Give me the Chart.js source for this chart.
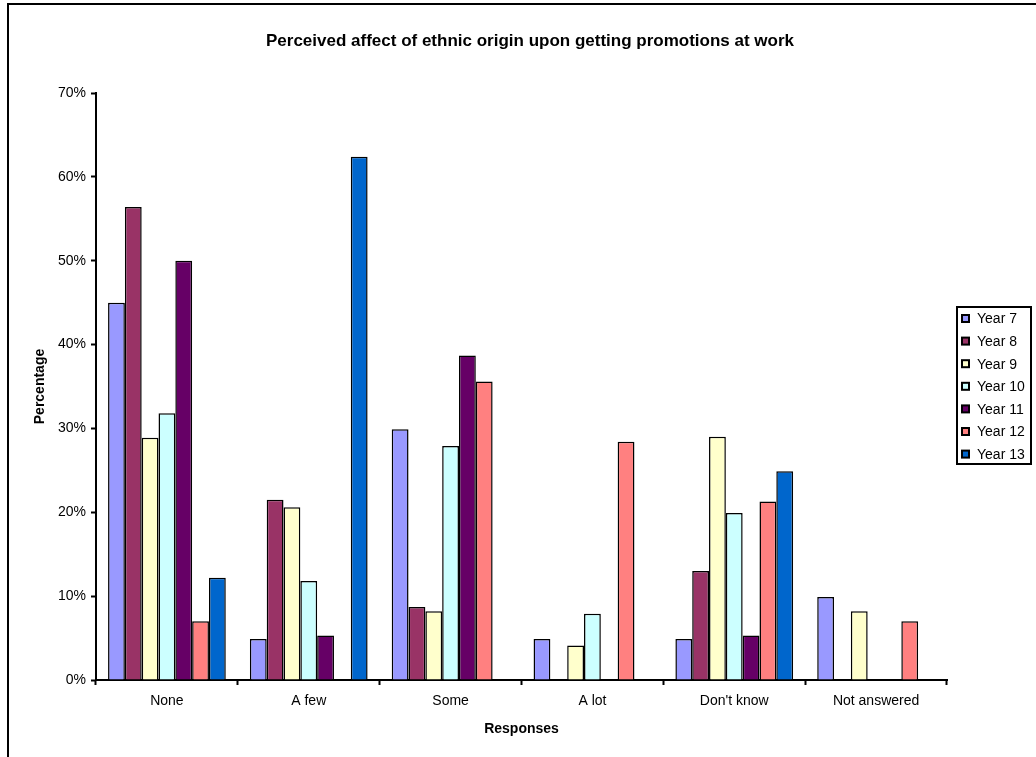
<!DOCTYPE html>
<html>
<head>
<meta charset="utf-8">
<script src="https://cdn.jsdelivr.net/npm/chart.js@4/dist/chart.umd.min.js"></script>
<style>
  html, body { margin: 0; padding: 0; background: #ffffff; }
  #wrap { width: 1036px; height: 757px; }
</style>
</head>
<body>
<div id="wrap"><canvas id="c" width="1036" height="757"></canvas></div>
<script>
// Response categories along the x axis
const categories = ['None', 'A few', 'Some', 'A lot', "Don't know", 'Not answered'];

// Percentage of each year group giving each response
const year7  = [45.0,  4.9, 29.9,  4.9,  4.9, 9.9];
const year8  = [56.4, 21.5,  8.7,  0,   13.0, 0];
const year9  = [28.9, 20.6,  8.2,  4.1, 29.0, 8.2];
const year10 = [31.8, 11.8, 27.9,  7.9, 19.9, 0];
const year11 = [50.0,  5.3, 38.7,  0,    5.3, 0];
const year12 = [ 7.0,  0,   35.6, 28.4, 21.3, 7.0];
const year13 = [12.2, 62.4,  0,    0,   24.9, 0];

const seriesNames = ['Year 7', 'Year 8', 'Year 9', 'Year 10', 'Year 11', 'Year 12', 'Year 13'];
const seriesColors = ['#9999FF', '#993366', '#FFFFCC', '#CCFFFF', '#660066', '#FF8080', '#0066CC'];
const seriesValues = [year7, year8, year9, year10, year11, year12, year13];

// Y axis tick labels (percent)
const yTicks = [0, 10, 20, 30, 40, 50, 60, 70];

const chartTitle = 'Perceived affect of ethnic origin upon getting promotions at work';

const FONT = 'Liberation Sans, Arial, sans-serif';

const datasets = seriesNames.map((name, i) => ({
  label: name,
  data: seriesValues[i],
  backgroundColor: seriesColors[i],
  borderColor: '#000000',
  borderWidth: 1.5,
  borderSkipped: 'bottom'
}));

// White background, outer frame lines and the chart heading
const framePlugin = {
  id: 'frame',
  beforeDraw(chart) {
    const ctx = chart.ctx;
    ctx.save();
    ctx.fillStyle = '#ffffff';
    ctx.fillRect(0, 0, chart.width, chart.height);
    ctx.strokeStyle = '#000000';
    ctx.lineWidth = 2;
    ctx.beginPath();
    ctx.moveTo(8, chart.height);
    ctx.lineTo(8, 4);
    ctx.lineTo(chart.width, 4);
    ctx.stroke();
    ctx.fillStyle = '#000000';
    ctx.font = 'bold 17px ' + FONT;
    ctx.textAlign = 'center';
    ctx.textBaseline = 'middle';
    ctx.fillText(chartTitle, 530, 41);
    ctx.restore();
  }
};

// Boxed legend to the right of the plot
const boxLegendPlugin = {
  id: 'boxLegend',
  afterDraw(chart) {
    const ctx = chart.ctx;
    const x0 = 957, y0 = 307, x1 = 1031, y1 = 464;
    const step = 22.6, firstY = 318.5;
    ctx.save();
    ctx.font = '14px ' + FONT;
    ctx.textBaseline = 'middle';
    ctx.textAlign = 'left';
    chart.data.datasets.forEach((ds, i) => {
      const cy = firstY + i * step;
      ctx.fillStyle = ds.backgroundColor;
      ctx.fillRect(962, cy - 3.5, 7, 7);
      ctx.strokeStyle = '#000000';
      ctx.lineWidth = 2;
      ctx.strokeRect(962, cy - 3.5, 7, 7);
      ctx.fillStyle = '#000000';
      ctx.fillText(ds.label, 977, cy + 1);
    });
    ctx.strokeStyle = '#000000';
    ctx.lineWidth = 2;
    ctx.strokeRect(x0, y0, x1 - x0, y1 - y0);
    ctx.restore();
  }
};

new Chart(document.getElementById('c'), {
  type: 'bar',
  data: { labels: categories, datasets },
  plugins: [framePlugin, boxLegendPlugin],
  options: {
    responsive: false,
    animation: false,
    devicePixelRatio: 1,
    layout: { padding: { left: 0, right: 89, top: 93, bottom: 0 } },
    datasets: {
      bar: { categoryPercentage: 0.83, barPercentage: 1.0 }
    },
    plugins: {
      legend: { display: false },
      tooltip: { enabled: false },
      title: { display: false }
    },
    scales: {
      x: {
        offset: true,
        grid: {
          offset: true,
          drawOnChartArea: false,
          drawTicks: true,
          tickLength: 5,
          tickWidth: 2,
          tickColor: '#000000'
        },
        border: { display: true, color: '#000000', width: 2 },
        ticks: {
          color: '#000000',
          font: { family: FONT, size: 14 },
          padding: 8,
          maxRotation: 0,
          autoSkip: false
        },
        title: {
          display: true,
          text: 'Responses',
          color: '#000000',
          font: { family: FONT, size: 14, weight: 'bold', lineHeight: 1.2 },
          padding: { top: 0, bottom: 19.6 }
        },
        afterFit(scale) { scale.height = 77; }
      },
      y: {
        min: 0,
        max: 70,
        afterBuildTicks(scale) { scale.ticks = yTicks.map(v => ({ value: v })); },
        grid: {
          drawOnChartArea: false,
          drawTicks: true,
          tickLength: 5,
          tickWidth: 2,
          tickColor: '#000000'
        },
        border: { display: true, color: '#000000', width: 2 },
        ticks: {
          color: '#000000',
          font: { family: FONT, size: 14 },
          padding: 5,
          callback: v => v + '%'
        },
        title: {
          display: true,
          text: 'Percentage',
          color: '#000000',
          font: { family: FONT, size: 14, weight: 'bold', lineHeight: 1.2 },
          padding: { top: 31.6, bottom: 0 }
        },
        afterFit(scale) { scale.width = 96; }
      }
    }
  }
});
</script>
</body>
</html>
